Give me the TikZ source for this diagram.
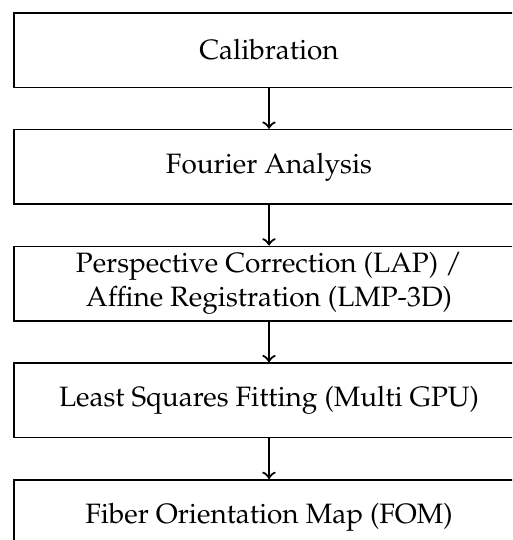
\documentclass[tikz,border=0pt]{standalone}
\usepackage[T1]{fontenc}
\usepackage{mathpazo}
\usetikzlibrary{positioning}

\tikzset{stage/.style={draw, line width=0.6pt, minimum width=182.4pt, minimum height=26.6pt, align=center, inner sep=2pt}}

\begin{document}
\begin{tikzpicture}[node distance=14.5pt]
     \clip (0,0) rectangle (182.9pt,-192.9pt);

     \node[stage, anchor=north west] (calib) at (4.6pt,-4.3pt) {Calibration};
     \node[stage, below=of calib] (fourier) {Fourier Analysis};
     \node[stage, below=of fourier] (correct) {Perspective Correction (LAP) /\\ Affine Registration (LMP-3D)};
     \node[stage, below=of correct] (fitting) {Least Squares Fitting (Multi GPU)};
     \node[stage, below=of fitting] (fom) {Fiber Orientation Map (FOM)};

     \draw[->, line width=0.8pt] (calib)--(fourier);
     \draw[->, line width=0.8pt] (fourier)--(correct);
     \draw[->, line width=0.8pt] (correct)--(fitting);
     \draw[->, line width=0.8pt] (fitting)--(fom);
\end{tikzpicture}
\end{document}
